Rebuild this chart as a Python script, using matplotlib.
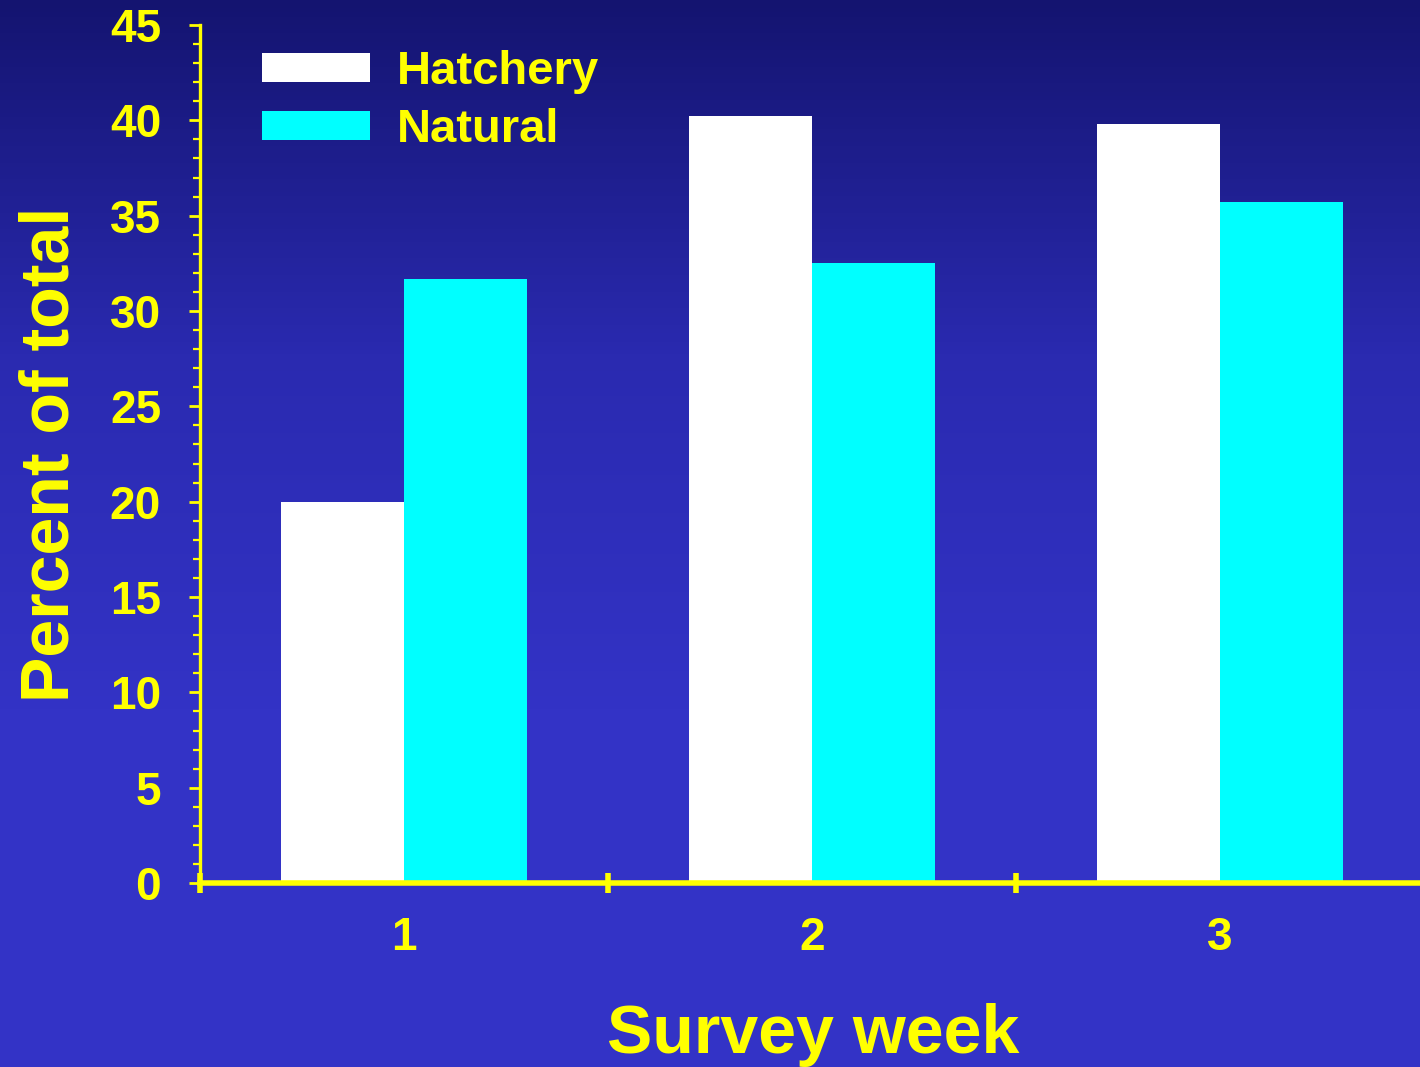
import numpy as np
import matplotlib
matplotlib.use('Agg')
import matplotlib.pyplot as plt
from matplotlib.colors import LinearSegmentedColormap
from matplotlib.ticker import MultipleLocator, FixedLocator, NullFormatter, FixedFormatter

#- Survey data: percent of total fish by week
weeks = ['1', '2', '3']
hatchery = [20.0, 40.2, 39.8]
natural = [31.7, 32.5, 35.7]

yellow = '#FFFF00'
plt.rcParams['font.family'] = ['Liberation Sans', 'DejaVu Sans']
plt.rcParams['font.weight'] = 'bold'

fig = plt.figure(figsize=(14.2, 10.67), dpi=100)

#- Background gradient, dark navy at the top to lighter blue at the bottom
bg = fig.add_axes([0, 0, 1, 1], zorder=-10)
grad_cmap = LinearSegmentedColormap.from_list('bg', ['#141470', '#2a2ab0', '#3333C6', '#3333C6'])
grad = np.linspace(0, 1, 256).reshape(-1, 1)
bg.imshow(grad, aspect='auto', cmap=grad_cmap, extent=[0, 1, 0, 1], origin='upper')
bg.axis('off')

ax = fig.add_axes([0.1408, 0.1724, 0.8620, 0.8042])
ax.patch.set_alpha(0)

x = np.arange(len(weeks)) + 0.5
w = 0.302
ax.bar(x - w / 2, hatchery, width=w, color='white', label='Hatchery', zorder=2)
ax.bar(x + w / 2, natural, width=w, color='#00FFFF', label='Natural', zorder=2)

ax.set_xlim(0, 3)
ax.set_ylim(0, 45)

#- Spines
for s in ['top', 'right']:
    ax.spines[s].set_visible(False)
ax.spines['left'].set_color(yellow)
ax.spines['left'].set_linewidth(2.4)
ax.spines['bottom'].set_color(yellow)
ax.spines['bottom'].set_linewidth(4)
ax.spines['bottom'].set_zorder(3)

#- Y ticks: major every 5, minor every 1
ax.yaxis.set_major_locator(MultipleLocator(5))
ax.yaxis.set_minor_locator(MultipleLocator(1))
ax.tick_params(axis='y', which='major', direction='out', length=8, width=2,
               color=yellow, labelcolor=yellow, labelsize=33, pad=20)
ax.tick_params(axis='y', which='minor', direction='out', length=5, width=1.6, color=yellow)

#- X ticks: marks at category boundaries, labels at centres
ax.xaxis.set_major_locator(FixedLocator([0, 1, 2, 3]))
ax.xaxis.set_major_formatter(NullFormatter())
ax.xaxis.set_minor_locator(FixedLocator(x))
ax.xaxis.set_minor_formatter(FixedFormatter(weeks))
ax.tick_params(axis='x', which='major', direction='inout', length=14, width=4, color=yellow)
ax.tick_params(axis='x', which='minor', length=0, labelcolor=yellow, labelsize=33, pad=24)

ax.set_ylabel('Percent of total', color=yellow, fontsize=49, fontweight='bold', labelpad=20)
fig.text(0.5725, 0.030, 'Survey week', color=yellow, fontsize=49, fontweight='bold',
         ha='center', va='center')

leg = ax.legend(loc='upper left', bbox_to_anchor=(0.035, 0.993), frameon=False,
                fontsize=34, handlelength=2.3, handleheight=0.56,
                handletextpad=0.56, labelspacing=0.3, borderaxespad=0)
for t in leg.get_texts():
    t.set_color(yellow)
    t.set_fontweight('bold')

plt.savefig('out.png', dpi=100)
